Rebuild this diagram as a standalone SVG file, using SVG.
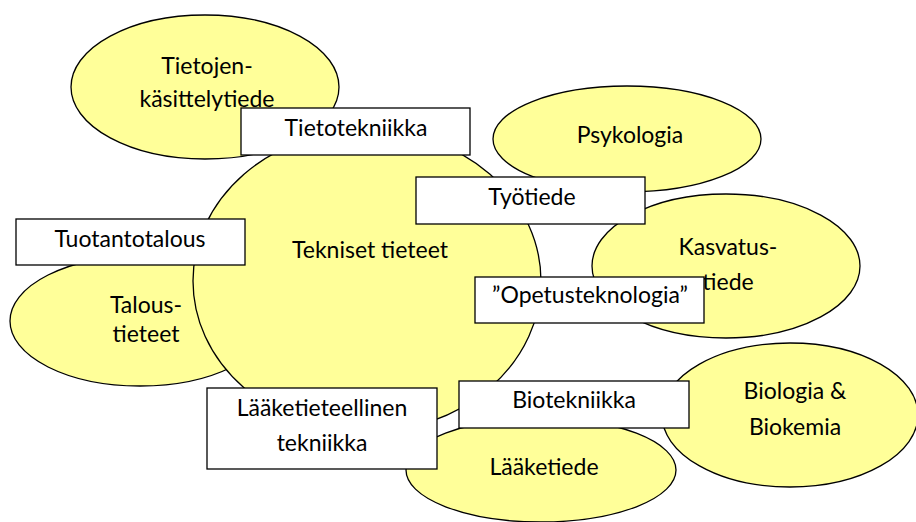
<svg xmlns="http://www.w3.org/2000/svg" width="916" height="522" viewBox="0 0 916 522">
<style>
.e{fill:#FFFF99;stroke:#000;stroke-width:1.3}
.b{fill:#fff;stroke:#000;stroke-width:1.3}
text{font-family:Lato,"Liberation Sans",sans-serif;font-size:23px;fill:#000;text-anchor:middle}
</style>
<rect width="916" height="522" fill="#fff"/>
<g id="connectors"/>
<g id="tietojenkasittelytiede"><ellipse class="e" cx="205" cy="87" rx="134" ry="72"/><text x="207" y="74">Tietojen-</text><text x="207" y="107">käsittelytiede</text></g>
<g id="psykologia"><ellipse class="e" cx="627" cy="139" rx="134" ry="53"/><text x="630" y="143">Psykologia</text></g>
<g id="kasvatustiede"><ellipse class="e" cx="726" cy="266" rx="134" ry="72"/><text x="728" y="255">Kasvatus-</text><text x="728" y="290">tiede</text></g>
<g id="taloustieteet"><ellipse class="e" cx="140" cy="321" rx="130" ry="65"/><text x="146" y="313">Talous-</text><text x="146" y="342">tieteet</text></g>
<g id="laaketiede"><ellipse class="e" cx="541" cy="470" rx="135" ry="52"/><text x="544" y="475">Lääketiede</text></g>
<g id="biologia"><ellipse class="e" cx="790" cy="415" rx="128" ry="72"/><text x="795" y="399">Biologia &amp;</text><text x="795" y="435">Biokemia</text></g>
<g id="tekniset"><ellipse class="e" cx="367" cy="281" rx="174" ry="151"/><text x="370" y="258">Tekniset tieteet</text></g>
<g id="tietotekniikka"><rect class="b" x="241" y="108" width="229" height="47"/><text x="356" y="136">Tietotekniikka</text></g>
<g id="tyotiede"><rect class="b" x="416" y="177" width="229" height="47"/><text x="532" y="205">Työtiede</text></g>
<g id="tuotantotalous"><rect class="b" x="16" y="219" width="229" height="46"/><text x="130" y="247">Tuotantotalous</text></g>
<g id="opetusteknologia"><rect class="b" x="475" y="277" width="229" height="46"/><text x="590" y="303">”Opetusteknologia”</text></g>
<g id="laaketieteellinen"><rect class="b" x="207" y="388" width="230" height="81"/><text x="322" y="416">Lääketieteellinen</text><text x="322" y="451">tekniikka</text></g>
<g id="biotekniikka"><rect class="b" x="459" y="381" width="230" height="47"/><text x="574" y="408">Biotekniikka</text></g>
</svg>
